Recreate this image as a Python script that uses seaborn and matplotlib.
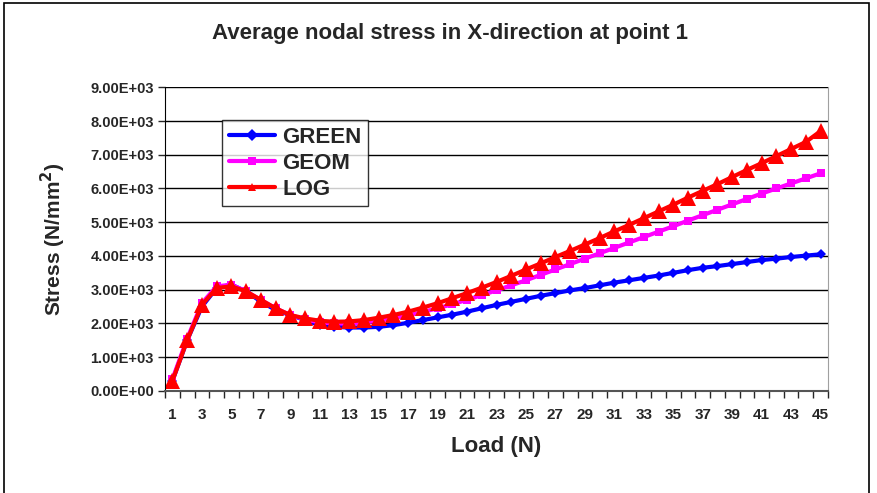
import numpy as np
import pandas as pd
import matplotlib
matplotlib.use("Agg")
import matplotlib.pyplot as plt
import seaborn as sns
from matplotlib.ticker import FuncFormatter, MultipleLocator
from matplotlib.patches import Rectangle

# data
load = list(range(1, 46))
green = [300, 1500, 2500, 3050, 3150, 2950, 2650, 2400, 2250, 2100,
         1950, 1900, 1880, 1880, 1900, 1950, 2020, 2100, 2180, 2260,
         2350, 2450, 2550, 2640, 2730, 2820, 2900, 2980, 3050, 3130,
         3210, 3280, 3350, 3420, 3500, 3580, 3650, 3700, 3760, 3820,
         3880, 3920, 3970, 4010, 4050]
geom = [350, 1550, 2600, 3100, 3150, 2950, 2700, 2450, 2250, 2120,
        2030, 2000, 2000, 2030, 2080, 2150, 2240, 2340, 2450, 2570,
        2700, 2840, 2980, 3130, 3280, 3440, 3600, 3760, 3920, 4080,
        4240, 4400, 4560, 4720, 4880, 5050, 5210, 5370, 5530, 5690,
        5850, 6000, 6150, 6300, 6450]
log = [300, 1500, 2550, 3050, 3100, 2950, 2700, 2450, 2250, 2150,
       2080, 2050, 2060, 2100, 2170, 2250, 2350, 2470, 2600, 2750,
       2900, 3060, 3230, 3410, 3600, 3780, 3970, 4150, 4340, 4530,
       4730, 4920, 5120, 5320, 5520, 5730, 5930, 6130, 6340, 6550,
       6750, 6960, 7170, 7380, 7700]
series = ["GREEN", "GEOM", "LOG"]

df = pd.DataFrame({"Load": load * 3,
                   "Stress": green + geom + log,
                   "Method": [s for s in series for _ in load]})

sns.set_style("white")
plt.rcParams['font.family'] = ['Liberation Sans', 'DejaVu Sans']
plt.rcParams['font.weight'] = 'bold'

fig = plt.figure(figsize=(8.78, 4.93), dpi=100)
ax = fig.add_axes([0.188, 0.207, 0.755, 0.616])

colors = {"GREEN": "#0000ff", "GEOM": "#ff00ff", "LOG": "#ff0000"}
markers = {"GREEN": "D", "GEOM": "s", "LOG": "^"}
sizes = {"GREEN": 5, "GEOM": 6, "LOG": 11}

sns.lineplot(data=df, x="Load", y="Stress", hue="Method", style="Method",
             hue_order=series, style_order=series, palette=colors,
             markers=markers, dashes=False, linewidth=3,
             markeredgewidth=0, ax=ax, legend=True)
for line, s in zip(ax.lines, series):
    line.set_markersize(sizes[s])

ax.set_xlim(0.5, 45.5)
ax.set_ylim(0, 9000)
ax.yaxis.set_major_locator(MultipleLocator(1000))
ax.yaxis.set_major_formatter(FuncFormatter(lambda v, p: "{:.2E}".format(v)))
ax.set_xticks(range(1, 46, 2))
ax.xaxis.set_minor_locator(MultipleLocator(1, offset=0.5))
ax.tick_params(axis="x", which="major", length=0, pad=12, labelsize=11)
ax.tick_params(axis="x", which="minor", length=5, direction="out", bottom=True, width=1)
ax.tick_params(axis="y", which="major", length=5, direction="out", left=True,
               labelsize=10.5, width=1, pad=3)
for lbl in ax.get_xticklabels() + ax.get_yticklabels():
    lbl.set_fontweight("bold")

ax.grid(axis="y", color="black", linewidth=1)
ax.set_axisbelow(True)
ax.spines["top"].set_visible(False)
ax.spines["right"].set_color("#a0a0a0")
ax.spines["left"].set_color("black")
ax.spines["bottom"].set_color("#555555")
ax.spines["bottom"].set_linewidth(1.5)

ax.set_xlabel("Load (N)", fontsize=16, fontweight="bold", labelpad=10)
ax.set_ylabel("Stress (N/mm$^\\mathbf{2}$)", fontsize=15, fontweight="bold", labelpad=16)
fig.text(0.513, 0.933, "Average nodal stress in X-direction at point 1",
         ha="center", va="center", fontsize=16, fontweight="bold")

leg = ax.legend(loc="upper left", bbox_to_anchor=(0.086, 0.891), borderaxespad=0,
                frameon=True, fancybox=False, edgecolor="black",
                prop={"weight": "bold", "size": 16}, handlelength=2.1,
                handletextpad=0.3, borderpad=0.3, labelspacing=0.22)
leg.get_frame().set_linewidth(1)
for h in leg.legend_handles:
    h.set_linewidth(3)

fig.patches.append(Rectangle((0.005, -0.05), 0.985, 1.043, transform=fig.transFigure,
                             fill=False, edgecolor="black", linewidth=1.2))

fig.savefig("out.png", dpi=100)
